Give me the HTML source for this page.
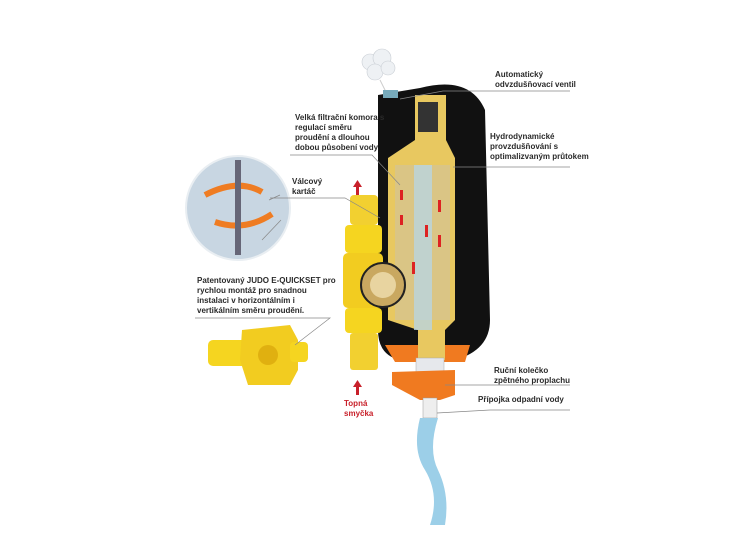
<!DOCTYPE html>
<html><head><meta charset="utf-8"><style>
body{margin:0;background:#fff;width:750px;height:550px;overflow:hidden;position:relative;font-family:"Liberation Sans",sans-serif}
.t{position:absolute;font-size:8px;line-height:10px;color:#2a2a2a;font-weight:bold}
</style></head><body>
<svg width="750" height="550" style="position:absolute;left:0;top:0">
<!-- smoke -->
<g fill="#eef1f4" stroke="#c9ced4" stroke-width="0.6">
<circle cx="370" cy="62" r="8"/><circle cx="382" cy="58" r="9"/><circle cx="375" cy="72" r="8"/><circle cx="388" cy="68" r="7"/>
</g>
<line x1="380" y1="80" x2="386" y2="92" stroke="#ccc"/>
<!-- housing -->
<path d="M378 95 L420 88 Q470 75 485 110 L490 320 Q490 350 455 360 L400 360 Q378 355 378 330 Z" fill="#111"/>
<rect x="383" y="90" width="15" height="8" fill="#7ab" />
<!-- orange bottom -->
<path d="M385 345 L470 345 L465 362 L395 362 Z" fill="#f07a20"/>
<!-- yellow chamber -->
<path d="M415 95 L446 95 L446 140 L455 158 L455 320 L445 330 L445 360 L418 360 L418 330 L388 320 L388 158 L415 140 Z" fill="#e8c860"/>
<rect x="395" y="165" width="55" height="155" fill="#d8c48a" opacity="0.9"/>
<rect x="414" y="165" width="18" height="165" fill="#b9d4e0" opacity="0.8"/>
<rect x="418" y="102" width="20" height="30" fill="#333"/>
<g fill="#d22">
<rect x="400" y="190" width="3" height="10"/><rect x="400" y="215" width="3" height="10"/><rect x="438" y="200" width="3" height="12"/><rect x="438" y="235" width="3" height="12"/><rect x="425" y="225" width="3" height="12"/><rect x="412" y="262" width="3" height="12"/>
</g>
<!-- white cylinder + wheel -->
<rect x="416" y="358" width="28" height="22" fill="#e6e8ec" stroke="#aaa" stroke-width="0.5"/>
<path d="M392 372 L455 370 L455 395 L440 400 L420 400 L405 392 L392 385 Z" fill="#f07a20"/>
<rect x="423" y="398" width="14" height="20" fill="#eee" stroke="#999" stroke-width="0.5"/>
<!-- water -->
<path d="M420 418 Q412 450 425 470 Q440 495 430 525 L445 525 Q450 495 438 470 Q428 450 438 418 Z" fill="#9ccfe8"/>
<!-- vertical pipe -->
<rect x="350" y="195" width="28" height="30" rx="4" fill="#f2d030"/>
<rect x="345" y="225" width="37" height="28" rx="4" fill="#f5d520"/>
<rect x="343" y="253" width="40" height="55" rx="5" fill="#f2cc20"/>
<rect x="345" y="308" width="37" height="25" rx="4" fill="#f5d520"/>
<rect x="350" y="333" width="28" height="37" rx="3" fill="#f2d030"/>
<circle cx="383" cy="285" r="22" fill="#c9a860" stroke="#222" stroke-width="2"/>
<circle cx="383" cy="285" r="13" fill="#e8d4a0"/>
<!-- red arrows -->
<g fill="#c8202a"><rect x="356" y="185" width="3" height="10"/><path d="M353 187 L357.5 180 L362 187Z"/><rect x="356" y="385" width="3" height="10"/><path d="M353 387 L357.5 380 L362 387Z"/></g>
<!-- brush circle -->
<circle cx="238" cy="208" r="52" fill="#c8d6e2"/>
<circle cx="238" cy="208" r="52" fill="none" stroke="#e9eef2" stroke-width="2"/>
<path d="M205 195 Q238 178 262 192" stroke="#ef7c22" stroke-width="6" fill="none"/>
<path d="M215 222 Q245 232 272 214" stroke="#ef7c22" stroke-width="6" fill="none"/>
<rect x="235" y="160" width="6" height="95" fill="#667"/>
<!-- quickset -->
<rect x="208" y="340" width="40" height="26" rx="5" fill="#f5d520"/>
<path d="M242 330 L290 325 L298 340 L298 370 L290 385 L248 385 L240 360 Z" fill="#f2cc20"/>
<circle cx="268" cy="355" r="10" fill="#e0b010"/>
<rect x="290" y="342" width="18" height="20" rx="4" fill="#f5d520"/>
<!-- leader lines -->
<g stroke="#888" stroke-width="0.7" fill="none">
<polyline points="400,99 443,91 570,91"/>
<polyline points="290,155 372,155 400,185"/>
<polyline points="453,167 482,167 570,167"/>
<polyline points="270,198 345,198 380,218"/>
<polyline points="269,200 280,195"/>
<polyline points="281,220 262,240"/>
<polyline points="195,318 330,318 295,345"/>
<polyline points="445,385 570,385"/>
<polyline points="437,413 490,410 570,410"/>
</g>
</svg>
<div class="t" style="left:495px;top:70px">Automatický<br>odvzdušňovací ventil</div>
<div class="t" style="left:295px;top:113px">Velká filtrační komora s<br>regulací směru<br>proudění a dlouhou<br>dobou působení vody</div>
<div class="t" style="left:490px;top:132px">Hydrodynamické<br>provzdušňování s<br>optimalizvaným průtokem</div>
<div class="t" style="left:292px;top:177px">Válcový<br>kartáč</div>
<div class="t" style="left:197px;top:276px">Patentovaný JUDO E-QUICKSET pro<br>rychlou montáž pro snadnou<br>instalaci v horizontálním i<br>vertikálním směru proudění.</div>
<div class="t" style="left:494px;top:366px">Ruční kolečko<br>zpětného proplachu</div>
<div class="t" style="left:478px;top:395px">Přípojka odpadní vody</div>
<div class="t" style="left:344px;top:399px;color:#c8202a">Topná<br>smyčka</div>
</body></html>
